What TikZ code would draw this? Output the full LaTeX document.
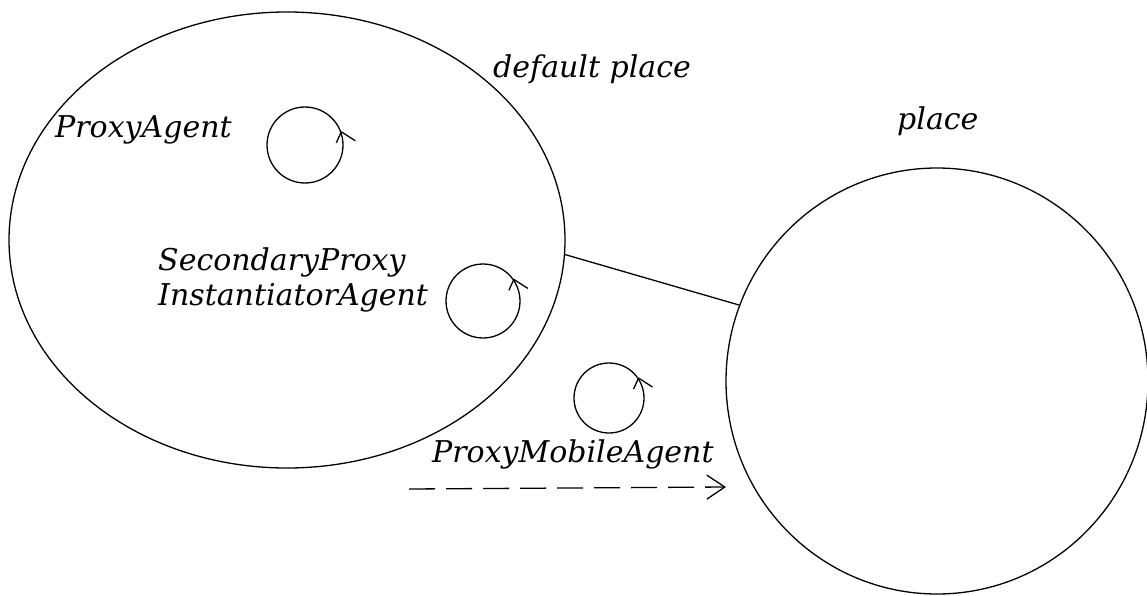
\documentclass[tikz,border=0pt]{standalone}
\usepackage{fontspec}
\setmainfont{DejaVu Serif}
\usetikzlibrary{shapes.geometric,arrows.meta}
\tikzset{
  outline/.style={draw=black, line width=1.3pt},
  placeshape/.style={outline, ellipse, inner sep=0pt},
  agent/.style={outline, circle, inner sep=0pt, minimum size=#1},
  label/.style={font=\itshape\fontsize{30}{34}\selectfont, inner sep=0pt, anchor=base west},
  wing/.style={line width=1.3pt},
  migration/.style={line width=1.3pt, dash pattern=on 26pt off 11pt, -{Straight Barb[length=18pt, width=24pt, line width=1.3pt]}}
}
% one turn marker: an open tick on the rim of an agent circle
\newcommand{\turnmark}[1]{%
  \draw[wing] (#1) -- ++(-5,11) (#1) -- ++(14,9);}
\begin{document}
\begin{tikzpicture}[x=1pt, y=-1pt]
  \useasboundingbox (0,0) rectangle (1147,596);
  % the two places
  \node[placeshape, minimum width=556pt, minimum height=456pt] (home) at (287,240) {};
  \node[placeshape, minimum width=422pt, minimum height=426pt] (remote) at (937,381) {};
  \draw[outline] (home.-3.3) -- (remote.159.3);
  % place labels
  \node[label] (homelbl) at (493,78) {default place};
  \node[label] (remotelbl) at (897,130) {place};
  % agents
  \node[agent=76pt] (pa) at (305,145) {};
  \turnmark{pa.20}
  \node[label] (palbl) at (55,138) {ProxyAgent};
  \node[agent=74pt] (spia) at (483,301) {};
  \turnmark{spia.35}
  \node[label] (spialblA) at (158,270) {SecondaryProxy};
  \node[label] (spialblB) at (158,305) {InstantiatorAgent};
  \node[agent=70pt] (pma) at (609,398) {};
  \turnmark{pma.34}
  \node[label] (pmalbl) at (432,462) {ProxyMobileAgent};
  % migration of the mobile agent
  \coordinate (from) at (409,489);
  \coordinate (to) at (726,487);
  \draw[migration] (from) -- (to);
\end{tikzpicture}
\end{document}
